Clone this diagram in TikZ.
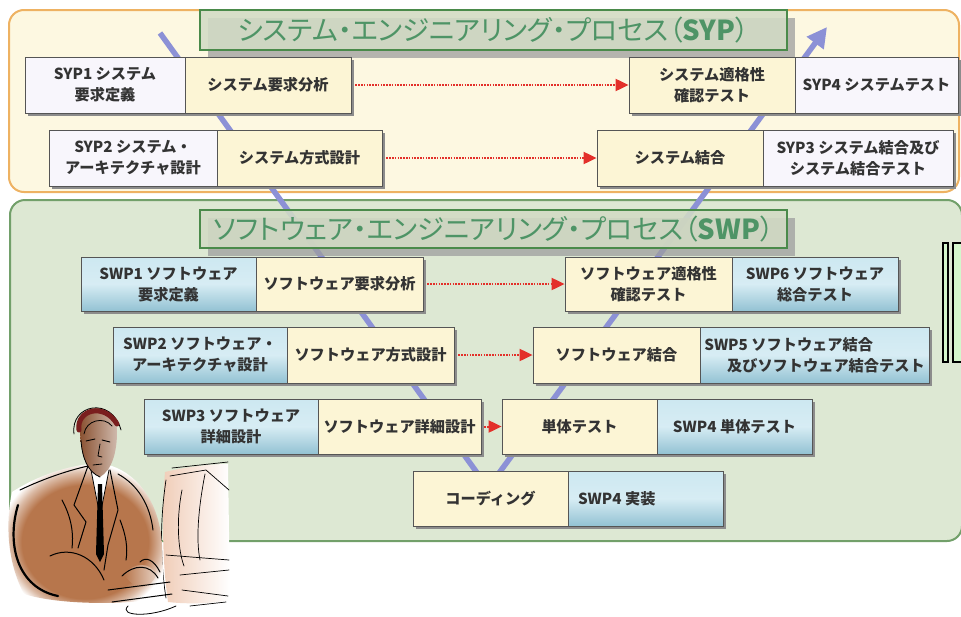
\documentclass[tikz,border=0pt]{standalone}
\usepackage{fontspec}
\setmainfont{Noto Sans CJK JP}
\newfontfamily\titlefont[RawFeature=+palt]{Noto Sans CJK JP}
\usetikzlibrary{arrows.meta,shadows}

\definecolor{sypfill}{HTML}{FDF8E1}
\definecolor{sypline}{HTML}{EEB262}
\definecolor{swpfill}{HTML}{DDE8D3}
\definecolor{swpline}{HTML}{72A06A}
\definecolor{titlefill}{HTML}{D2DBC5}
\definecolor{titleline}{HTML}{4A8A4A}
\definecolor{titletext}{HTML}{4E9466}
\definecolor{actfill}{HTML}{FCF5D5}
\definecolor{labfill}{HTML}{F8F6FC}
\definecolor{bluetop}{HTML}{CDE8F1}
\definecolor{bluebot}{HTML}{93C2D3}
\definecolor{boxline}{HTML}{555555}
\definecolor{boxtext}{HTML}{333333}
\definecolor{vline}{HTML}{8C91D6}
\definecolor{flow}{HTML}{E3302A}
\definecolor{sidefill}{HTML}{D4F7CC}
\definecolor{skin}{HTML}{B7764C}
\definecolor{face}{HTML}{8A5232}
\definecolor{hair}{HTML}{7A1E1E}
\definecolor{screen}{HTML}{F0CDB8}

% soft brown with a white rim, for the clip-art figure
\pgfdeclareradialshading{halo}{\pgfpoint{0bp}{-4bp}}{%
  color(0bp)=(skin); color(20bp)=(skin); color(24bp)=(skin!50!white);
  color(27bp)=(white); color(50bp)=(white)}

\newcommand\procbox[7]{%
  \node[#1, minimum width={#5-#3}, minimum height={#6-#4}]
    (#2) at ({(#3+#5)/2},{(#4+#6)/2}) {#7};}

\begin{document}
\begin{tikzpicture}[x=1pt,y=-1pt,
  panel/.style={line width=2pt, rounded corners=15pt},
  titlebox/.style={draw=titleline, line width=2pt, fill=titlefill, fill opacity=0.88,
    text opacity=1, text=titletext, font=\titlefont\fontsize{27.5}{29}\selectfont, inner sep=0pt,
    drop shadow={shadow xshift=8pt, shadow yshift=-8pt, fill=black!38, opacity=0.75}},
  basebox/.style={draw=boxline, line width=0.8pt, inner sep=0pt, align=center,
    text=boxtext, font=\fontsize{15.2}{21}\selectfont\bfseries,
    drop shadow={shadow xshift=3pt, shadow yshift=-3pt, fill=black!45, opacity=1}},
  actbox/.style={basebox, fill=actfill},
  labbox/.style={basebox, fill=labfill},
  bluebox/.style={basebox, top color=bluetop, bottom color=bluebot, middle color=bluetop!80!white},
  vee/.style={line width=5.5pt, draw=vline},
  flowarrow/.style={draw=flow, line width=2pt, dash pattern=on 1.6pt off 1.2pt,
    -{Triangle[length=13pt,width=12pt,fill=flow]}, shorten <=4pt},
  sidebox/.style={draw=black, line width=1.6pt, fill=sidefill},
  ink/.style={draw=black, line width=1pt, line cap=round, line join=round}]

\useasboundingbox (0,0) rectangle (961,616);
\fill[white] (0,0) rectangle (961,616);

% process panels
\draw[panel, draw=sypline, fill=sypfill] (9,10) rectangle (959,192);
\draw[panel, draw=swpline, fill=swpfill] (10,200) rectangle (962,541);

% the V of the life cycle
\coordinate (vtop) at (160,33);
\coordinate (vbot) at (488,488);
\coordinate (vtip) at (827,27);
\draw[vee] (vtop) -- (vbot);
\draw[vee, -{Triangle[length=20pt,width=20pt]}] (vbot) -- (vtip);

% panel titles
\procbox{titlebox}{syptitle}{200}{10}{787}{50}{システム・エンジニアリング・プロセス（\textbf{SYP}）}
\procbox{titlebox}{swptitle}{200}{210}{787}{248}{ソフトウェア・エンジニアリング・プロセス（\textbf{SWP}）}

% system process
\procbox{labbox}{syp1}{25}{57}{185}{113}{SYP1 システム\\要求定義}
\procbox{actbox}{syp1a}{185}{57}{351}{113}{システム要求分析}
\procbox{labbox}{syp2}{49}{130}{217}{186}{SYP2 システム・\\アーキテクチャ設計}
\procbox{actbox}{syp2a}{217}{130}{382}{186}{システム方式設計}
\procbox{actbox}{syp4a}{629}{57}{795}{113}{システム適格性\\確認テスト}
\procbox{labbox}{syp4}{795}{57}{958}{113}{SYP4 システムテスト}
\procbox{actbox}{syp3a}{597}{130}{763}{186}{システム結合}
\procbox{labbox}{syp3}{763}{130}{953}{186}{SYP3 システム結合及び\\システム結合テスト}

% software process
\procbox{bluebox}{swp1}{81}{257}{256}{311}{SWP1 ソフトウェア\\要求定義}
\procbox{actbox}{swp1a}{256}{257}{423}{311}{ソフトウェア要求分析}
\procbox{bluebox}{swp2}{113}{327}{287}{383}{SWP2 ソフトウェア・\\アーキテクチャ設計}
\procbox{actbox}{swp2a}{287}{327}{454}{383}{ソフトウェア方式設計}
\procbox{bluebox}{swp3}{144}{399}{318}{454}{SWP3 ソフトウェア\\詳細設計}
\procbox{actbox}{swp3a}{318}{399}{481}{454}{ソフトウェア詳細設計}
\procbox{actbox}{swp6a}{565}{257}{732}{311}{ソフトウェア適格性\\確認テスト}
\procbox{bluebox}{swp6}{732}{257}{898}{311}{SWP6 ソフトウェア\\総合テスト}
\procbox{actbox}{swp5a}{533}{327}{700}{383}{ソフトウェア結合}
\procbox{bluebox, align=left}{swp5}{700}{327}{929}{383}{SWP5 ソフトウェア結合\\\hspace*{1.5em}及びソフトウェア結合テスト}
\procbox{actbox}{swp4a}{502}{399}{657}{454}{単体テスト}
\procbox{bluebox}{swp4}{657}{399}{812}{454}{SWP4 単体テスト}
\procbox{actbox}{coda}{413}{471}{568}{526}{コーディング}
\procbox{bluebox}{cod}{568}{471}{723}{526}{\makebox[135pt][l]{SWP4 実装}}

% verification links
\draw[flowarrow] (syp1a.east) -- (syp4a.west);
\draw[flowarrow] (syp2a.east) -- (syp3a.west);
\draw[flowarrow] (swp1a.east) -- (swp6a.west);
\draw[flowarrow] (swp2a.east) -- (swp5a.west);
\draw[flowarrow, shorten <=3pt] (swp3a.east) -- (swp4a.west);

% side markers
\node[sidebox, minimum width=5pt, minimum height=119pt, inner sep=0pt] (sidea) at (945.5,302.5) {};
\node[sidebox, minimum width=14pt, minimum height=119pt, inner sep=0pt] (sideb) at (960,302.5) {};

% man at the computer
\begin{scope}
  % monitor
  \path[left color=screen, right color=white]
    (165,472) .. controls (190,466) and (215,464) .. (228,464)
    -- (230,600) .. controls (210,604) and (185,604) .. (168,602)
    .. controls (162,560) and (162,510) .. cycle;
  \draw[ink, line width=0.7pt] (172,468) -- (228,462);
  \draw[ink, line width=0.7pt] (170,476) -- (206,470) -- (229,490);
  \draw[ink, line width=0.7pt] (166,480) .. controls (160,520) and (160,560) .. (166,598);
  \draw[ink, line width=0.7pt] (205,474) .. controls (198,510) and (196,540) .. (200,560);
  \draw[ink, line width=0.7pt] (182,490) .. controls (176,520) and (178,550) .. (184,566);
  \draw[ink, line width=0.7pt] (166,555) -- (229,560);
  \draw[ink, line width=0.7pt] (180,575) -- (229,570);
  \draw[ink, line width=0.7pt] (182,590) -- (228,596);
  \draw[ink, line width=0.7pt] (190,606) -- (226,602);
  % body
  \path[shading=halo]
    (12,492) .. controls (40,474) and (70,466) .. (90,464) -- (112,466)
    .. controls (140,476) and (160,505) .. (162,545) -- (164,598)
    .. controls (120,606) and (55,604) .. (24,594)
    .. controls (6,560) and (6,520) .. cycle;
  \draw[ink, line width=2.2pt] (18,505) .. controls (6,545) and (18,588) .. (58,596);
  \draw[ink] (20,490) .. controls (45,478) and (70,470) .. (88,466);
  \draw[ink] (118,474) .. controls (138,485) and (150,505) .. (153,530);
  \draw[ink] (88,466) -- (74,505) -- (86,522) -- (78,548);
  \draw[ink] (62,500) .. controls (70,515) and (74,530) .. (72,548);
  \draw[ink] (110,470) -- (118,510) -- (108,545) -- (104,570);
  \draw[ink] (50,556) .. controls (70,546) and (94,556) .. (104,580);
  \draw[ink] (120,520) .. controls (126,535) and (128,548) .. (126,560);
  \fill[white] (91,470) -- (100,516) -- (109,470) -- cycle;
  \fill[black] (98,484) -- (102,484) -- (104,554) -- (100,562) -- (96,554) -- cycle;
  \draw[ink, line width=0.8pt] (91,470) -- (100,516) -- (109,470);
  % hand and keyboard
  \path[left color=skin, right color=skin!35!white]
    (124,574) .. controls (134,562) and (150,562) .. (156,574)
    .. controls (152,590) and (134,592) .. cycle;
  \draw[ink] (122,576) .. controls (134,564) and (150,564) .. (158,578);
  \draw[ink] (140,562) .. controls (146,556) and (154,560) .. (160,572);
  \draw[ink] (108,590) -- (170,582);
  \draw[ink] (112,602) -- (172,594);
  \draw[ink, line width=0.8pt] (128,606) .. controls (118,616) and (150,618) .. (176,606);
  % head
  \path[left color=face, right color=face!40!white]
    (80,428) .. controls (80,452) and (86,472) .. (100,477)
    .. controls (112,470) and (117,452) .. (117,432)
    .. controls (117,414) and (106,408) .. (98,408)
    .. controls (86,408) and (80,414) .. cycle;
  \draw[ink, line width=0.8pt] (81,440) .. controls (82,458) and (88,472) .. (100,477);
  \draw[ink, line width=0.8pt] (74,434) .. controls (70,404) and (112,396) .. (121,430);
  \draw[hair, line width=5pt, line cap=round] (79,430) .. controls (76,410) and (104,402) .. (117,424);
  \draw[ink, line width=0.8pt] (84,434) .. controls (86,420) and (104,416) .. (112,426);
  \draw[ink, line width=0.9pt] (86,441) -- (95,439);
  \draw[ink, line width=0.9pt] (102,440) -- (110,442);
  \draw[ink, line width=0.8pt] (100,444) -- (98,456) -- (102,457);
  \draw[ink, line width=0.8pt] (93,465) -- (102,464);
\end{scope}
\end{tikzpicture}
\end{document}
